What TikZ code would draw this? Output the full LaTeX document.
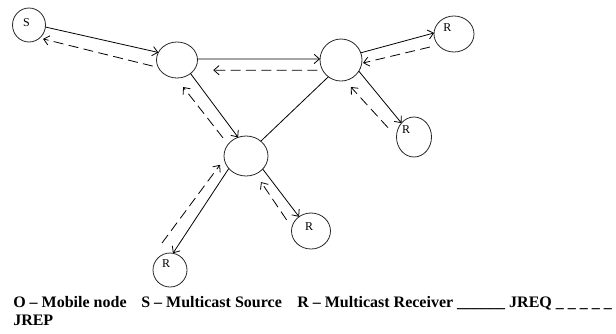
\documentclass[tikz,border=0pt]{standalone}
\usepackage{fontspec}
\setmainfont{Liberation Serif}
\usetikzlibrary{arrows.meta,shapes.geometric,calc}
\begin{document}
\begin{tikzpicture}[x=0.75pt,y=-0.75pt,
  nd/.style={draw=black!85,ellipse,inner sep=0pt,outer sep=0pt,line width=0.6pt},
  lbl/.style={font=\fontsize{9}{10}\selectfont,inner sep=0pt},
  req/.style={draw,line width=0.6pt,-{Straight Barb[length=4pt,width=7pt]}},
  rep/.style={draw,line width=0.6pt,dash pattern=on 7.5pt off 4pt,-{Straight Barb[length=4pt,width=7pt]}},
  plain/.style={draw,line width=0.6pt},
  legend/.style={font=\fontsize{12}{14}\selectfont\bfseries,inner sep=0pt,anchor=base west}]
\useasboundingbox (0,0) rectangle (616,333);
% nodes
\node[nd,minimum width=24.75pt,minimum height=25.5pt,label={[lbl,xshift=-1.9pt,yshift=1.5pt]center:S}] (S) at (29,25) {};
\node[nd,minimum width=30.75pt,minimum height=27pt] (A) at (177,60) {};
\node[nd,minimum width=31.5pt,minimum height=31.5pt] (B) at (341,60) {};
\node[nd,minimum width=33pt,minimum height=30pt] (C) at (246,156) {};
\node[nd,minimum width=30pt,minimum height=27pt,label={[lbl,xshift=-4.9pt,yshift=4.9pt]center:R}] (R1) at (454,34) {};
\node[nd,minimum width=26.25pt,minimum height=30pt,label={[lbl,xshift=-6pt,yshift=5.25pt]center:R}] (R2) at (414,137) {};
\node[nd,minimum width=29.25pt,minimum height=27pt,label={[lbl,xshift=-1.5pt,yshift=3pt]center:R}] (R3) at (311,231) {};
\node[nd,minimum width=25.5pt,minimum height=25.5pt,label={[lbl,xshift=-3pt,yshift=5pt]center:R}] (R4) at (170,270) {};
% connectors
\draw[req] (S.-7) -- (A.158);
\draw[rep,shorten <=4.4pt,shorten >=2.7pt] (A.-158) -- (S.-51);
\draw[req] (A.3) -- (B.177);
\draw[rep,shorten <=4pt,shorten >=14.5pt] (B.-151.6) -- (A.-31);
\draw[req] (A.-45) -- (C.113);
\draw[rep,shorten <=6.2pt,shorten >=8.6pt] (C.147) -- (A.-93);
\draw[plain] (B.-127) -- (C.45);
\draw[req] (B.20) -- (R1.177);
\draw[rep,shorten <=6.4pt,shorten >=1pt] (R1.-145) -- (B.-9);
\draw[req] (B.-32) -- (R2.132);
\draw[rep,shorten <=9.5pt,shorten >=6.5pt] (R2.180) -- (B.-79);
\draw[req] (C.-38) -- (R3.130);
\draw[rep,shorten <=7pt,shorten >=7.3pt] (R3.170) -- (C.-62);
\draw[req] (C.-144) -- (R4.80);
\coordinate (r4d) at ($(R4)+(-8,-27)$);
\draw[rep,shorten >=5.4pt] (r4d) -- (C.188);
% legend
\node[legend] (l1) at (13,307) {O – Mobile node};
\node[legend] (l2) at (141,307) {S – Multicast Source};
\node[legend] (l3) at (297,307) {R – Multicast Receiver \_\_\_\_\_\_ JREQ \_ \_ \_ \_ \_};
\node[legend] (l4) at (13,325) {JREP};
\end{tikzpicture}
\end{document}
